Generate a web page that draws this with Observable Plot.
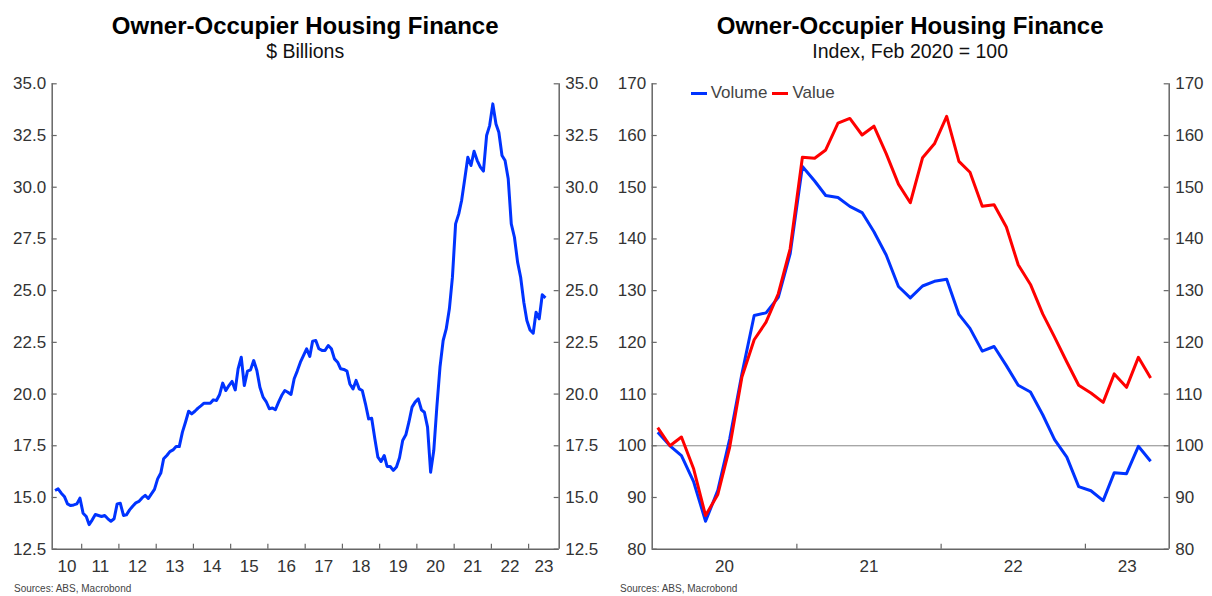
<!DOCTYPE html>
<html><head><meta charset="utf-8">
<script src="https://cdn.jsdelivr.net/npm/d3@7"></script>
<script src="https://cdn.jsdelivr.net/npm/@observablehq/plot@0.6"></script>
<style>
body{margin:0;background:#fff;font-family:"Liberation Sans",Arial,sans-serif;}
#wrap{position:relative;width:1212px;height:596px;overflow:hidden;background:#fff}
.panel{position:absolute;top:0;width:606px;height:596px}
.title{position:absolute;top:12px;text-align:center;font-weight:bold;font-size:24px;color:#000;white-space:nowrap;line-height:28px}
.sub{position:absolute;top:40px;text-align:center;font-size:19.5px;color:#111;white-space:nowrap;line-height:22px}
.src{position:absolute;top:583px;font-size:10px;color:#444;white-space:nowrap}
.plot{position:absolute;top:62px;left:0}
.legend{position:absolute;top:83px;font-size:17px;color:#444;display:flex;align-items:center;line-height:20px}
.sw{display:inline-block;width:16px;height:3px;margin-right:4px}
</style>
</head><body>
<div id="wrap">
  <div class="panel" id="pL" style="left:0"></div>
  <div class="panel" id="pR" style="left:606px"></div>
</div>
<script>
// ---------- Left chart data: $ billions, monthly Apr 2010 – Jun 2023 ----------
const leftStart = [2010, 3];
const leftValues = [
15.34,15.42,15.21,15.05,14.69,14.61,14.64,14.69,14.97,14.24,
14.08,13.69,13.92,14.18,14.13,14.08,14.13,13.97,13.85,13.97,
14.69,14.72,14.13,14.16,14.40,14.58,14.74,14.81,14.98,15.10,
14.95,15.17,15.39,15.90,16.18,16.87,17.03,17.22,17.30,17.46,
17.46,18.16,18.64,19.17,19.04,19.17,19.32,19.43,19.56,19.56,
19.56,19.72,19.69,19.98,20.53,20.17,20.41,20.61,20.20,21.22,
21.78,20.41,21.11,21.17,21.62,21.14,20.33,19.85,19.64,19.29,
19.33,19.24,19.61,19.93,20.17,20.09,19.98,20.74,21.11,21.54,
21.86,22.19,21.82,22.56,22.59,22.19,22.11,22.11,22.35,22.19,
21.70,21.54,21.22,21.19,21.11,20.49,20.25,20.66,20.25,20.17,
19.53,18.80,18.83,17.84,16.95,16.74,17.03,16.50,16.50,16.31,
16.47,16.92,17.76,18.03,18.64,19.37,19.61,19.77,19.24,19.12,
18.40,16.22,17.27,19.37,21.30,22.59,23.15,24.12,25.65,28.23,
28.71,29.36,30.41,31.45,31.05,31.74,31.29,30.97,30.78,32.50,
32.98,34.03,33.06,32.66,31.53,31.29,30.41,28.23,27.58,26.38,
25.65,24.44,23.56,23.10,22.94,23.96,23.64,24.80,24.65
];
const leftYTicks = [12.5,15.0,17.5,20.0,22.5,25.0,27.5,30.0,32.5,35.0];
const leftYears = [2010,2011,2012,2013,2014,2015,2016,2017,2018,2019,2020,2021,2022,2023];
const leftYearLabels = ["10","11","12","13","14","15","16","17","18","19","20","21","22","23"];

// ---------- Right chart data: index Feb 2020 = 100, monthly Jan 2020 – Jun 2023 ----------
const rightStart = [2020, 0];
const volumeIdx = [
102.6,100.0,98.1,93.0,85.4,91.4,101.3,113.9,125.2,125.7,
128.7,137.1,154.0,151.2,148.4,148.0,146.3,145.1,141.4,136.9,
130.8,128.6,130.9,131.8,132.2,125.4,122.7,118.3,119.2,115.5,
111.7,110.4,106.0,101.2,97.8,92.1,91.3,89.4,94.8,94.6,
99.9,97.0
];
const valueIdx = [
103.5,100.0,101.7,95.5,86.5,90.6,99.7,113.3,120.5,123.9,
129.4,138.1,155.8,155.6,157.2,162.4,163.3,160.1,161.8,156.5,
150.6,147.0,155.7,158.4,163.7,155.0,152.9,146.3,146.6,142.3,
135.0,131.2,125.5,121.0,116.2,111.7,110.2,108.4,113.9,111.3,
117.1,113.1
];
const rightYTicks = [80,90,100,110,120,130,140,150,160,170];
const rightYears = [2020,2021,2022,2023];
const rightYearLabels = ["20","21","22","23"];
const seriesNames = ["Volume","Value"];
const seriesColors = ["#0033ff","#ff0000"];

const titleText = "Owner-Occupier Housing Finance";
const subLeft = "$ Billions";
const subRight = "Index, Feb 2020 = 100";
const sourceText = "Sources: ABS, Macrobond";

// ---------- helpers ----------
const mid = (y, m) => new Date(Date.UTC(y, m, 15));
const jan = y => new Date(Date.UTC(y, 0, 1));
const AX = "#666";
const TXT = "#333";
const H = 516, MT = 21.3, MB = 29.3;

function yearLabelPositions(years, domain) {
  return years.map(y => {
    const a = Math.max(+jan(y), +domain[0]);
    const b = Math.min(+jan(y + 1), +domain[1]);
    return new Date((a + b) / 2);
  });
}

function buildPanel(opts) {
  const {el, W, ML, MR, xDomain, yDomain, yTicks, yFmt, years, yearLabels, series, extra} = opts;
  const plotW = W - ML - MR, plotH = H - MT - MB;
  const tickYears = years.map(jan).filter(d => d > xDomain[0] && d < xDomain[1]);
  const labelPos = yearLabelPositions(years, xDomain);
  const lab = labelPos.map((d, i) => ({d, t: yearLabels[i]}));
  const marks = [
    ...(extra || []),
    ...series.map(s => Plot.lineY(s.data, {x: "date", y: "v", stroke: s.color, strokeWidth: 3, strokeLinejoin: "round", strokeLinecap: "butt"})),
    Plot.ruleX([xDomain[0]], {stroke: AX, strokeWidth: 1.5}),
    Plot.ruleX([xDomain[1]], {stroke: AX, strokeWidth: 1.5}),
    Plot.ruleY([yDomain[0]], {stroke: AX, strokeWidth: 1.5}),
    Plot.tickY(yTicks, {y: d => d, stroke: AX, strokeWidth: 1.2, insetRight: plotW - 5}),
    Plot.tickY(yTicks, {y: d => d, stroke: AX, strokeWidth: 1.2, insetLeft: plotW - 5}),
    Plot.tickX(tickYears, {x: d => d, stroke: AX, strokeWidth: 1.2, insetTop: plotH - 5}),
    Plot.axisY(yTicks, {anchor: "left", label: null, tickSize: 0, tickPadding: 6, tickFormat: yFmt, fill: TXT}),
    Plot.axisY(yTicks, {anchor: "right", label: null, tickSize: 0, tickPadding: 6, tickFormat: yFmt, fill: TXT}),
    Plot.text(lab, {x: "d", text: "t", frameAnchor: "bottom", dy: 17, lineAnchor: "middle", fill: TXT, fontSize: 17})
  ];
  const svg = Plot.plot({
    width: W, height: H, marginLeft: ML, marginRight: MR, marginTop: MT, marginBottom: MB,
    x: {type: "utc", domain: xDomain, axis: null, label: null},
    y: {domain: yDomain, axis: null, label: null},
    style: {fontFamily: "'Liberation Sans', Arial, sans-serif", fontSize: "17px", color: TXT, background: "transparent", overflow: "visible"},
    marks
  });
  svg.classList.add("plot");
  el.appendChild(svg);
  return {plotLeft: ML, plotW};
}

function addText(el, cls, text, left, width) {
  const d = document.createElement("div");
  d.className = cls;
  d.textContent = text;
  d.style.left = left + "px";
  if (width != null) d.style.width = width + "px";
  el.appendChild(d);
  return d;
}

// ---------- Left panel ----------
const leftData = leftValues.map((v, i) => ({date: mid(leftStart[0], leftStart[1] + i), v}));
const pL = document.getElementById("pL");
const gL = buildPanel({
  el: pL, W: 606, ML: 51.7, MR: 47.3,
  xDomain: [new Date(Date.UTC(2010, 2, 18)), new Date(Date.UTC(2023, 9, 28))],
  yDomain: [12.5, 35], yTicks: leftYTicks, yFmt: d => d.toFixed(1),
  years: leftYears, yearLabels: leftYearLabels,
  series: [{data: leftData, color: seriesColors[0]}]
});
addText(pL, "title", titleText, gL.plotLeft, gL.plotW);
addText(pL, "sub", subLeft, gL.plotLeft, gL.plotW);
addText(pL, "src", sourceText, 14);

// ---------- Right panel ----------
const volData = volumeIdx.map((v, i) => ({date: mid(rightStart[0], rightStart[1] + i), v}));
const valData = valueIdx.map((v, i) => ({date: mid(rightStart[0], rightStart[1] + i), v}));
const pR = document.getElementById("pR");
const gR = buildPanel({
  el: pR, W: 606, ML: 45.7, MR: 43.3,
  xDomain: [new Date(Date.UTC(2020, 0, 1)), new Date(Date.UTC(2023, 7, 1))],
  yDomain: [80, 170], yTicks: rightYTicks, yFmt: d => String(d),
  years: rightYears, yearLabels: rightYearLabels,
  series: [{data: volData, color: seriesColors[0]}, {data: valData, color: seriesColors[1]}],
  extra: [Plot.ruleY([100], {stroke: "#888", strokeWidth: 1})]
});
addText(pR, "title", titleText, gR.plotLeft, gR.plotW);
addText(pR, "sub", subRight, gR.plotLeft, gR.plotW);
addText(pR, "src", sourceText, 14);

const leg = document.createElement("div");
leg.className = "legend";
leg.style.left = "84.7px";
seriesNames.forEach((n, i) => {
  const sw = document.createElement("span");
  sw.className = "sw"; sw.style.background = seriesColors[i];
  const t = document.createElement("span");
  t.textContent = n; t.style.marginRight = "5px";
  leg.appendChild(sw); leg.appendChild(t);
});
pR.appendChild(leg);
</script>
</body></html>
